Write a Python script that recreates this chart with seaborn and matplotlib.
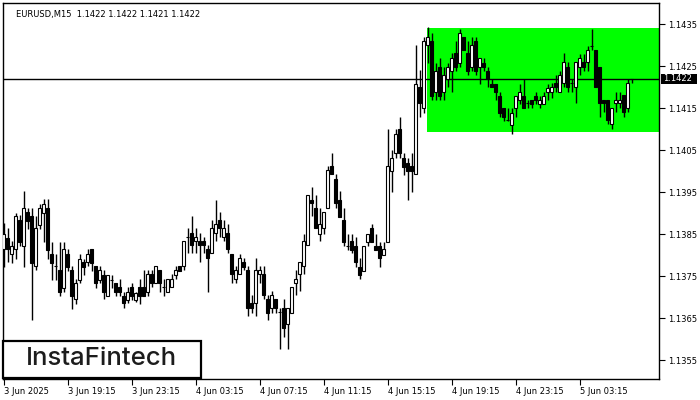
import numpy as np
import pandas as pd
import seaborn as sns
import matplotlib
matplotlib.use("Agg")
import matplotlib.pyplot as plt
from matplotlib.patches import Rectangle
import matplotlib.transforms as mtransforms

# ---------------- data (EURUSD M15) ----------------
opens = [
    1.13814, 1.13842, 1.13803, 1.13814, 1.13884, 1.13823, 1.13903, 1.13893, 1.13774, 1.13873,
    1.13902, 1.13912, 1.13803, 1.13775, 1.13765, 1.13723, 1.13803, 1.13765, 1.13695, 1.13742,
    1.13784, 1.13784, 1.13814, 1.13774, 1.13742, 1.13754, 1.13704, 1.13742, 1.13733, 1.13724,
    1.13703, 1.13694, 1.13724, 1.13694, 1.13724, 1.13724, 1.13713, 1.13756, 1.13733, 1.13765,
    1.13724, 1.13713, 1.13724, 1.13753, 1.13775, 1.13775, 1.13844, 1.13854, 1.13834, 1.13834,
    1.13834, 1.13814, 1.13805, 1.13854, 1.13884, 1.13844, 1.13854, 1.13803, 1.13743, 1.13755,
    1.13783, 1.13765, 1.13686, 1.13686, 1.13755, 1.13755, 1.13695, 1.13674, 1.13695, 1.13665,
    1.13674, 1.13636, 1.13663, 1.13733, 1.13755, 1.13775, 1.13824, 1.13933, 1.13912, 1.13852,
    1.13864, 1.13912, 1.14013, 1.13982, 1.13933, 1.13884, 1.13823, 1.13834, 1.13823, 1.13773,
    1.13763, 1.13832, 1.13864, 1.13823, 1.13823, 1.13802, 1.13832, 1.14002, 1.14043, 1.14102,
    1.14031, 1.14021, 1.14013, 1.13993, 1.14200, 1.14150, 1.14301, 1.14310, 1.14190, 1.14249,
    1.14190, 1.14221, 1.14240, 1.14281, 1.14259, 1.14319, 1.14281, 1.14249, 1.14310, 1.14249,
    1.14259, 1.14240, 1.14209, 1.14209, 1.14180, 1.14150, 1.14122, 1.14110, 1.14150, 1.14170,
    1.14180, 1.14162, 1.14170, 1.14180, 1.14160, 1.14160, 1.14190, 1.14190, 1.14210, 1.14190,
    1.14210, 1.14249, 1.14210, 1.14200, 1.14249, 1.14260, 1.14260, 1.14299, 1.14290, 1.14249,
    1.14171, 1.14171, 1.14113, 1.14162, 1.14162, 1.14182, 1.14150, 1.14220,
]
highs = [
    1.13876, 1.13864, 1.13834, 1.13900, 1.13896, 1.13953, 1.13912, 1.13912, 1.13893, 1.13923,
    1.13934, 1.13934, 1.13832, 1.13803, 1.13832, 1.13832, 1.13814, 1.13774, 1.13744, 1.13803,
    1.13792, 1.13814, 1.13814, 1.13774, 1.13774, 1.13765, 1.13754, 1.13754, 1.13733, 1.13743,
    1.13713, 1.13724, 1.13733, 1.13713, 1.13743, 1.13765, 1.13765, 1.13765, 1.13775, 1.13765,
    1.13743, 1.13743, 1.13756, 1.13775, 1.13775, 1.13834, 1.13864, 1.13894, 1.13864, 1.13854,
    1.13844, 1.13825, 1.13884, 1.13933, 1.13904, 1.13884, 1.13874, 1.13803, 1.13775, 1.13803,
    1.13793, 1.13775, 1.13705, 1.13793, 1.13775, 1.13775, 1.13705, 1.13714, 1.13695, 1.13674,
    1.13695, 1.13674, 1.13724, 1.13765, 1.13783, 1.13852, 1.13944, 1.13963, 1.13944, 1.13912,
    1.13903, 1.14013, 1.14043, 1.13993, 1.13953, 1.13912, 1.13852, 1.13852, 1.13843, 1.13793,
    1.13823, 1.13852, 1.13874, 1.13852, 1.13832, 1.13832, 1.14102, 1.14052, 1.14102, 1.14130,
    1.14043, 1.14031, 1.14043, 1.14301, 1.14241, 1.14321, 1.14343, 1.14329, 1.14259, 1.14269,
    1.14249, 1.14259, 1.14281, 1.14310, 1.14340, 1.14319, 1.14310, 1.14319, 1.14319, 1.14269,
    1.14269, 1.14249, 1.14221, 1.14209, 1.14190, 1.14150, 1.14150, 1.14150, 1.14180, 1.14209,
    1.14221, 1.14170, 1.14170, 1.14190, 1.14180, 1.14190, 1.14209, 1.14210, 1.14229, 1.14240,
    1.14283, 1.14260, 1.14220, 1.14260, 1.14279, 1.14279, 1.14299, 1.14340, 1.14290, 1.14249,
    1.14171, 1.14171, 1.14150, 1.14190, 1.14190, 1.14182, 1.14220, 1.14220,
]
lows = [
    1.13773, 1.13785, 1.13782, 1.13792, 1.13822, 1.13773, 1.13862, 1.13646, 1.13765, 1.13862,
    1.13832, 1.13792, 1.13742, 1.13742, 1.13703, 1.13713, 1.13763, 1.13673, 1.13685, 1.13733,
    1.13753, 1.13774, 1.13763, 1.13723, 1.13733, 1.13695, 1.13704, 1.13723, 1.13704, 1.13703,
    1.13674, 1.13686, 1.13694, 1.13690, 1.13684, 1.13703, 1.13703, 1.13725, 1.13733, 1.13713,
    1.13703, 1.13713, 1.13724, 1.13743, 1.13763, 1.13765, 1.13805, 1.13805, 1.13805, 1.13783,
    1.13805, 1.13713, 1.13805, 1.13834, 1.13844, 1.13834, 1.13805, 1.13733, 1.13733, 1.13755,
    1.13765, 1.13655, 1.13663, 1.13655, 1.13733, 1.13695, 1.13646, 1.13663, 1.13663, 1.13576,
    1.13605, 1.13576, 1.13663, 1.13705, 1.13714, 1.13755, 1.13824, 1.13894, 1.13864, 1.13834,
    1.13852, 1.13912, 1.13993, 1.13912, 1.13892, 1.13823, 1.13813, 1.13805, 1.13773, 1.13743,
    1.13763, 1.13823, 1.13832, 1.13813, 1.13773, 1.13802, 1.13832, 1.13952, 1.14033, 1.14033,
    1.13991, 1.13932, 1.13952, 1.13993, 1.14130, 1.14140, 1.14259, 1.14170, 1.14170, 1.14170,
    1.14170, 1.14202, 1.14190, 1.14240, 1.14249, 1.14290, 1.14229, 1.14240, 1.14229, 1.14209,
    1.14240, 1.14202, 1.14200, 1.14170, 1.14130, 1.14120, 1.14120, 1.14090, 1.14130, 1.14160,
    1.14150, 1.14150, 1.14150, 1.14160, 1.14150, 1.14160, 1.14170, 1.14175, 1.14190, 1.14190,
    1.14200, 1.14190, 1.14190, 1.14162, 1.14229, 1.14240, 1.14240, 1.14289, 1.14200, 1.14130,
    1.14142, 1.14113, 1.14102, 1.14142, 1.14150, 1.14130, 1.14142, 1.14210,
]
closes = [
    1.13852, 1.13814, 1.13823, 1.13893, 1.13832, 1.13912, 1.13882, 1.13782, 1.13864, 1.13912,
    1.13923, 1.13812, 1.13782, 1.13774, 1.13713, 1.13814, 1.13773, 1.13704, 1.13733, 1.13792,
    1.13773, 1.13803, 1.13782, 1.13733, 1.13765, 1.13713, 1.13754, 1.13742, 1.13713, 1.13713,
    1.13686, 1.13713, 1.13703, 1.13711, 1.13703, 1.13703, 1.13756, 1.13733, 1.13775, 1.13733,
    1.13724, 1.13743, 1.13743, 1.13765, 1.13763, 1.13834, 1.13844, 1.13825, 1.13844, 1.13825,
    1.13825, 1.13793, 1.13864, 1.13874, 1.13864, 1.13864, 1.13814, 1.13755, 1.13765, 1.13793,
    1.13773, 1.13674, 1.13674, 1.13765, 1.13765, 1.13705, 1.13663, 1.13705, 1.13674, 1.13665,
    1.13626, 1.13674, 1.13724, 1.13744, 1.13783, 1.13834, 1.13944, 1.13924, 1.13864, 1.13875,
    1.13903, 1.14003, 1.13993, 1.13924, 1.13892, 1.13832, 1.13823, 1.13813, 1.13783, 1.13753,
    1.13823, 1.13852, 1.13832, 1.13813, 1.13793, 1.13814, 1.14013, 1.14031, 1.14090, 1.14043,
    1.14011, 1.14002, 1.14002, 1.14209, 1.14162, 1.14310, 1.14319, 1.14180, 1.14240, 1.14180,
    1.14229, 1.14249, 1.14269, 1.14249, 1.14329, 1.14290, 1.14240, 1.14301, 1.14240, 1.14269,
    1.14249, 1.14221, 1.14200, 1.14190, 1.14140, 1.14130, 1.14122, 1.14140, 1.14180, 1.14190,
    1.14150, 1.14162, 1.14160, 1.14170, 1.14170, 1.14180, 1.14199, 1.14200, 1.14200, 1.14229,
    1.14260, 1.14200, 1.14210, 1.14260, 1.14269, 1.14249, 1.14289, 1.14299, 1.14200, 1.14162,
    1.14162, 1.14122, 1.14150, 1.14171, 1.14171, 1.14142, 1.14210, 1.14220,
]

tick_positions = [0, 16, 32, 48, 64, 80, 96, 112, 128, 144]
tick_labels = ["3 Jun 2025", "3 Jun 19:15", "3 Jun 23:15", "4 Jun 03:15", "4 Jun 07:15",
               "4 Jun 11:15", "4 Jun 15:15", "4 Jun 19:15", "4 Jun 23:15", "5 Jun 03:15"]
price_ticks = [1.1355, 1.1365, 1.1375, 1.1385, 1.1395, 1.1405, 1.1415, 1.1425, 1.1435]

current_price = 1.1422
header_text = "EURUSD,M15  1.1422 1.1422 1.1421 1.1422"
logo_text = "InstaFintech"

# rectangle pattern (start bar index, bottom/top price)
rect_start = 105.9
rect_low = 1.14093
rect_high = 1.14341

# ---------------- plotting ----------------
sns.set_theme(style="white")
plt.rcParams["font.family"] = ["DejaVu Sans"]

df = pd.DataFrame({"open": opens, "high": highs, "low": lows, "close": closes})
df["idx"] = np.arange(len(df))
df["up"] = df["close"] >= df["open"]
df["body_lo"] = df[["open", "close"]].min(axis=1)
df["body_h"] = (df["close"] - df["open"]).abs()

fig = plt.figure(figsize=(7, 4), dpi=100)
fig.patch.set_facecolor("white")
ax = fig.add_axes([3 / 700, 21 / 400, 656.3 / 700, 376 / 400])
ax.set_facecolor("white")

x_left, x_right = -0.125, 163.95
ax.set_xlim(x_left, x_right)
ax.set_ylim(1.135055, 1.14401)

ax.add_patch(Rectangle((rect_start, rect_low), x_right - rect_start + 1, rect_high - rect_low,
                       facecolor="#00ff00", edgecolor="none", zorder=0))
ax.axhline(current_price, color="black", lw=1.0, zorder=1)

ax.vlines(df["idx"], df["low"], df["high"], color="black", lw=1.0, zorder=2)
ax.bar(df["idx"], df["body_h"], bottom=df["body_lo"], width=0.55,
       color=np.where(df["up"], "white", "black"), edgecolor="black",
       linewidth=0.8, zorder=3)

# axes styling
for s in ax.spines.values():
    s.set_color("black")
    s.set_linewidth(1.0)
    s.set_visible(True)

ax.yaxis.tick_right()
ax.set_yticks(price_ticks)
ax.set_yticklabels([f"{v:.4f}" for v in price_ticks])
ax.set_xticks(tick_positions)
ax.set_xticklabels(tick_labels, ha="left")
ax.tick_params(axis="y", which="both", right=True, left=False, length=4, width=0.8,
               pad=2, labelsize=6, colors="black")
ax.tick_params(axis="x", which="both", bottom=True, length=4, width=0.8,
               pad=2, labelsize=6, colors="black")
for lbl in ax.get_xticklabels():
    lbl.set_horizontalalignment("left")
ax.grid(False)

# current price box
trans = mtransforms.blended_transform_factory(fig.transFigure, ax.transData)
box_h = 0.000222
ax.add_patch(Rectangle((661 / 700, current_price - box_h / 2), 36 / 700, box_h,
                       transform=trans, facecolor="black", edgecolor="none",
                       clip_on=False, zorder=5))
ax.text(663.5 / 700, current_price, f"{current_price:.4f}", transform=trans,
        color="white", fontsize=6, va="center", ha="left", zorder=6, clip_on=False)

# header
fig.text(16 / 700, 1 - 14.5 / 400, header_text, fontsize=6, color="black",
         ha="left", va="center")

# logo box
logo = Rectangle((3 / 700, 1 - 378 / 400), 198 / 700, 37.3 / 400, transform=fig.transFigure,
                 facecolor="white", edgecolor="black", linewidth=1.6, zorder=10)
fig.patches.append(logo)
fig.text(101.5 / 700, 1 - 358.5 / 400, logo_text, fontsize=18.5, color="#1c1c1c",
         ha="center", va="center", family=["Inter", "DejaVu Sans"], fontweight="medium",
         zorder=11)

fig.savefig("out.png", dpi=100, facecolor="white")
